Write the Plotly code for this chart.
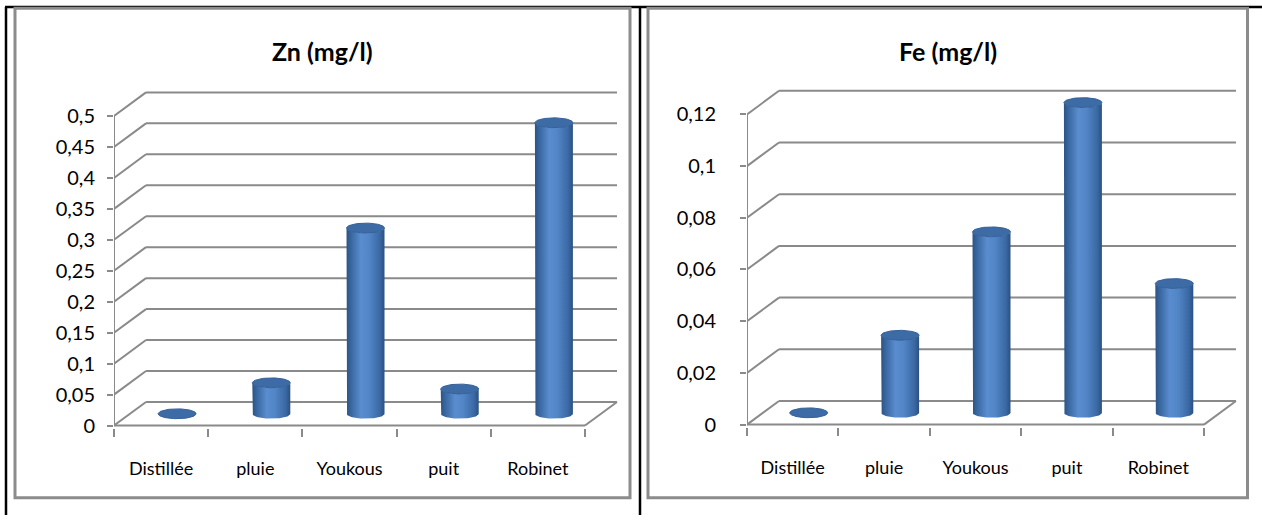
import numpy as np
import plotly.graph_objects as go

# ---- data -------------------------------------------------------------
categories = ["Distillée", "pluie", "Youkous", "puit", "Robinet"]
zn_values = [0.0, 0.05, 0.30, 0.04, 0.47]
fe_values = [0.0, 0.03, 0.07, 0.12, 0.05]

zn_ticks = [0, 0.05, 0.1, 0.15, 0.2, 0.25, 0.3, 0.35, 0.4, 0.45, 0.5]
zn_tick_labels = ["0", "0,05", "0,1", "0,15", "0,2", "0,25", "0,3", "0,35", "0,4", "0,45", "0,5"]
fe_ticks = [0, 0.02, 0.04, 0.06, 0.08, 0.1, 0.12]
fe_tick_labels = ["0", "0,02", "0,04", "0,06", "0,08", "0,1", "0,12"]

titles = ["Zn (mg/l)", "Fe (mg/l)"]

# ---- layout constants (pixels) ----------------------------------------
W, H = 1262, 524
DEPTH_X, DEPTH_Y = 32, 24        # oblique offset of the back wall
BAR_HALF_PX = 19                  # cylinder radius
ELL_PX = 5                        # half height of the cylinder ellipses
GRID = "#8a8a8a"
FONT = "Lato"

panels = [
    dict(values=zn_values, ticks=zn_ticks, labels=zn_tick_labels, title=titles[0],
         x0=114, cat_px=94.2, y0=433, unit_px=630, standoff=8,
         box=(15, 8.5, 630, 506.5)),
    dict(values=fe_values, ticks=fe_ticks, labels=fe_tick_labels, title=titles[1],
         x0=747, cat_px=91.4, y0=432, unit_px=2630, standoff=20,
         box=(648, 8.5, 1247.5, 506.5)),
]

BODY_SCALE = [[0.0, "#2b5385"], [0.1, "#36649c"], [0.38, "#5a8dcf"],
              [0.6, "#5185c6"], [0.88, "#3a68a3"], [1.0, "#2a5080"]]
TOP_COLOR = "#3d6ba5"

fig = go.Figure()
layout_axes = {}
shapes = []
annotations = []

t = np.linspace(0, np.pi, 40)
tt = np.linspace(0, 2 * np.pi, 80)

for k, p in enumerate(panels):
    sfx = "" if k == 0 else str(k + 1)
    xa, ya = "x" + sfx, "y" + sfx
    n = len(categories)
    dxu = DEPTH_X / p["cat_px"]
    dyu = DEPTH_Y / p["unit_px"]
    w = BAR_HALF_PX / p["cat_px"]
    h = ELL_PX / p["unit_px"]
    ticks = p["ticks"]
    top = ticks[-1]

    xr = [0, n + dxu + 0.01]
    yr = [-2 / p["unit_px"], top + dyu + 6 / p["unit_px"]]

    # walls: back gridlines, side-wall diagonals, front axis, floor edges
    gx, gy = [], []
    for v in ticks:
        gx += [dxu, n + dxu, None, 0, dxu, None]
        gy += [v + dyu, v + dyu, None, v, v + dyu, None]
    gx += [0, 0, None, 0, n, None, n, n + dxu]
    gy += [0, top, None, 0, 0, None, 0, dyu]
    fig.add_trace(go.Scatter(x=gx, y=gy, mode="lines", xaxis=xa, yaxis=ya,
                             line=dict(color=GRID, width=2), hoverinfo="skip",
                             showlegend=False))

    # cylinders
    for i, v in enumerate(p["values"]):
        xc = i + 0.5 + dxu / 2
        yb = dyu / 2
        yt = v + dyu / 2
        # body: left side, lower front arc of the base, right side, front arc of the top
        bx = [xc - w, xc - w]
        by = [yt, yb]
        bx += list(xc - w * np.cos(t))
        by += list(yb - h * np.sin(t))
        bx += [xc + w, xc + w]
        by += [yb, yt]
        bx += list(xc + w * np.cos(t))
        by += list(yt - h * np.sin(t))
        fig.add_trace(go.Scatter(x=bx, y=by, mode="lines", fill="toself",
                                 xaxis=xa, yaxis=ya, line=dict(width=0),
                                 fillgradient=dict(type="horizontal", colorscale=BODY_SCALE),
                                 hoverinfo="skip", showlegend=False))
        # top ellipse
        fig.add_trace(go.Scatter(x=xc + w * np.cos(tt), y=yt + h * np.sin(tt),
                                 mode="lines", fill="toself", xaxis=xa, yaxis=ya,
                                 fillcolor=TOP_COLOR, line=dict(color="#35609a", width=1),
                                 hoverinfo="skip", showlegend=False))

    x_left = p["x0"]
    x_right = p["x0"] + xr[1] * p["cat_px"]
    y_bottom = p["y0"] - yr[0] * p["unit_px"]
    y_top = p["y0"] - yr[1] * p["unit_px"]

    layout_axes["xaxis" + sfx] = dict(
        domain=[x_left / W, x_right / W], range=xr, anchor=ya,
        showgrid=False, zeroline=False, showline=False,
        tickmode="array", tickvals=[i + 0.5 for i in range(n)], ticktext=categories,
        ticks="", ticklabelstandoff=28,
        tickfont=dict(family=FONT, size=18, color="#000000"),
        minor=dict(tickmode="array", tickvals=list(range(n + 1)), ticks="outside",
                   ticklen=8, tickwidth=2, tickcolor=GRID, showgrid=False),
        fixedrange=True,
    )
    layout_axes["yaxis" + sfx] = dict(
        domain=[1 - y_bottom / H, 1 - y_top / H], range=yr, anchor=xa,
        showgrid=False, zeroline=False, showline=False,
        tickmode="array", tickvals=ticks, ticktext=p["labels"],
        ticks="outside", ticklen=6, tickwidth=2, tickcolor=GRID,
        ticklabelstandoff=p["standoff"],
        tickfont=dict(family=FONT, size=20, color="#000000"),
        fixedrange=True,
    )

    bx0, by0, bx1, by1 = p["box"]
    shapes.append(dict(type="rect", xref="paper", yref="paper",
                       x0=bx0 / W, x1=bx1 / W, y0=1 - by1 / H, y1=1 - by0 / H,
                       line=dict(color="#8c8c8c", width=3), layer="above"))
    annotations.append(dict(text=p["title"], xref="paper", yref="paper",
                            x=(bx0 + bx1) / 2 / W, y=1 - 52 / H,
                            xanchor="center", yanchor="middle", showarrow=False,
                            font=dict(family=FONT, size=25, color="#000000", weight="bold")))

# table rules around and between the two charts
for x0, y0, x1, y1 in [(5, 7, W, 7), (6, 7, 6, H), (640, 7, 640, H)]:
    shapes.insert(0, dict(type="line", xref="paper", yref="paper",
                          x0=x0 / W, x1=x1 / W, y0=1 - y0 / H, y1=1 - y1 / H,
                          line=dict(color="#000000", width=2.5), layer="below"))

fig.update_layout(
    width=W, height=H, margin=dict(l=0, r=0, t=0, b=0),
    paper_bgcolor="#ffffff", plot_bgcolor="rgba(0,0,0,0)",
    shapes=shapes, annotations=annotations, showlegend=False,
    **layout_axes,
)

fig.write_html("out.html")
